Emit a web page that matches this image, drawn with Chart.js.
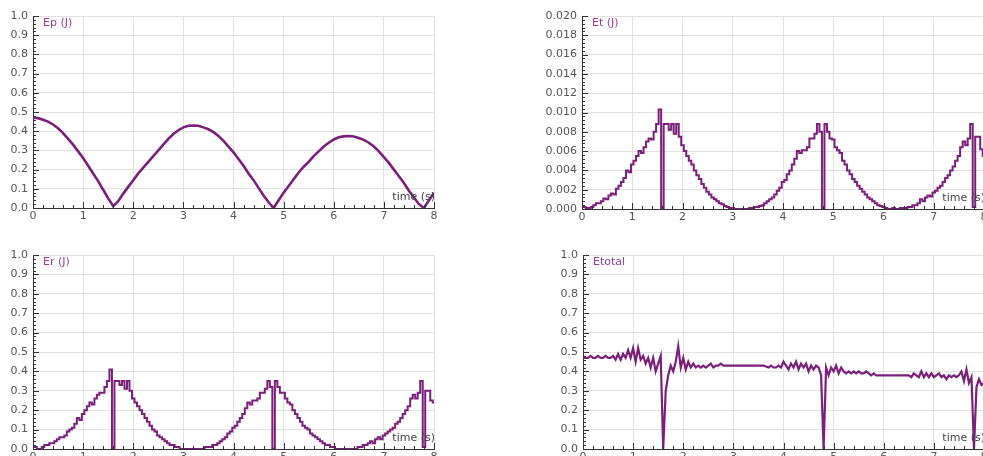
<!DOCTYPE html>
<html lang="en">
<head>
  <meta charset="UTF-8" />
  <title>Energy plots</title>
  <script src="https://cdn.jsdelivr.net/npm/chart.js"></script>
  <style>
    body { margin: 0; width: 983px; height: 456px; overflow: hidden; background: #fff; position: relative; }
    canvas { position: absolute; }
  </style>
</head>
<body>
  <canvas id="epChart" width="450" height="228" style="left:0;top:0"></canvas>
  <canvas id="etChart" width="460" height="229" style="left:540px;top:0"></canvas>
  <canvas id="erChart" width="450" height="230" style="left:0;top:239px"></canvas>
  <canvas id="etotChart" width="460" height="230" style="left:540px;top:239px"></canvas>

  <script>
    // sample times (s)
    const tEp = Array.from({ length: 81 }, (_, i) => +(i * 0.1).toFixed(1));
    const tFine = Array.from({ length: 161 }, (_, i) => +(i * 0.05).toFixed(2));

    // Ep (J), every 0.1 s
    const ep = [
      0.47, 0.468, 0.46, 0.45, 0.435, 0.415, 0.39, 0.36, 0.33, 0.295, 0.26, 0.22, 0.18, 0.14, 0.095, 0.05, 0.01,
      0.035, 0.075, 0.11, 0.145, 0.18, 0.21, 0.24, 0.27, 0.30, 0.33, 0.36, 0.385, 0.405, 0.42, 0.428, 0.43,
      0.428, 0.42, 0.41, 0.395, 0.375, 0.35, 0.32, 0.29, 0.255, 0.22, 0.18, 0.145, 0.105, 0.065, 0.03, 0.0,
      0.04, 0.08, 0.115, 0.15, 0.185, 0.215, 0.24, 0.27, 0.295, 0.32, 0.34, 0.357, 0.368, 0.373, 0.375, 0.372,
      0.365, 0.355, 0.34, 0.32, 0.295, 0.265, 0.235, 0.20, 0.165, 0.13, 0.09, 0.055, 0.02, 0.0, 0.04, 0.08
    ];

    // Et (J), every 0.05 s
    const et = [
      0.0002, 0.0002, 0.0001, 0.0001, 0.0002, 0.0004, 0.0006, 0.0006, 0.0008, 0.0011,
      0.0010, 0.0014, 0.0016, 0.0015, 0.0021, 0.0024, 0.0028, 0.0032, 0.0040, 0.0038,
      0.0046, 0.0050, 0.0055, 0.0060, 0.0058, 0.0064, 0.0070, 0.0073, 0.0072, 0.0080,
      0.0088, 0.0103, 0.0000, 0.0088, 0.0088, 0.0082, 0.0088, 0.0078, 0.0088, 0.0075,
      0.0066, 0.0060, 0.0055, 0.0050, 0.0046, 0.0040, 0.0035, 0.0031, 0.0026, 0.0022,
      0.0018, 0.0015, 0.0012, 0.0010, 0.0008, 0.0006, 0.0005, 0.0003, 0.0002, 0.0001,
      0.0001, 0.0000, 0.0000, 0.0000, 0.0000, 0.0000, 0.0000, 0.0001, 0.0001, 0.0002,
      0.0002, 0.0003, 0.0004, 0.0006, 0.0008, 0.0010, 0.0012, 0.0015, 0.0019, 0.0022,
      0.0028, 0.0030, 0.0036, 0.0040, 0.0046, 0.0052, 0.0060, 0.0058, 0.0061, 0.0061,
      0.0064, 0.0073, 0.0073, 0.0078, 0.0088, 0.0080, 0.0000, 0.0088, 0.0080, 0.0073,
      0.0072, 0.0064, 0.0061, 0.0058, 0.0050, 0.0046, 0.0040, 0.0036, 0.0031, 0.0028,
      0.0024, 0.0021, 0.0018, 0.0015, 0.0012, 0.0010, 0.0008, 0.0006, 0.0004, 0.0003,
      0.0002, 0.0001, 0.0000, 0.0000, 0.0001, 0.0000, 0.0000, 0.0001, 0.0001, 0.0001,
      0.0002, 0.0002, 0.0004, 0.0004, 0.0006, 0.0010, 0.0008, 0.0012, 0.0014, 0.0013,
      0.0017, 0.0019, 0.0022, 0.0024, 0.0028, 0.0032, 0.0035, 0.0040, 0.0044, 0.0050,
      0.0055, 0.0064, 0.0070, 0.0066, 0.0073, 0.0088, 0.0002, 0.0075, 0.0075, 0.0062,
      0.0055
    ];

    // Er (J), every 0.05 s
    const er = [
      0.01, 0.01, 0.00, 0.00, 0.01, 0.02, 0.02, 0.03, 0.03, 0.04,
      0.05, 0.06, 0.06, 0.07, 0.09, 0.10, 0.11, 0.13, 0.16, 0.15,
      0.18, 0.20, 0.22, 0.24, 0.23, 0.26, 0.28, 0.29, 0.29, 0.32,
      0.35, 0.41, 0.00, 0.35, 0.35, 0.33, 0.35, 0.31, 0.35, 0.30,
      0.26, 0.24, 0.22, 0.20, 0.18, 0.16, 0.14, 0.12, 0.10, 0.09,
      0.07, 0.06, 0.05, 0.04, 0.03, 0.02, 0.02, 0.01, 0.01, 0.00,
      0.00, 0.00, 0.00, 0.00, 0.00, 0.00, 0.00, 0.00, 0.00, 0.01,
      0.01, 0.01, 0.02, 0.02, 0.03, 0.04, 0.05, 0.06, 0.08, 0.09,
      0.11, 0.12, 0.14, 0.16, 0.18, 0.21, 0.24, 0.23, 0.25, 0.25,
      0.26, 0.29, 0.29, 0.31, 0.35, 0.32, 0.00, 0.35, 0.32, 0.29,
      0.29, 0.26, 0.24, 0.23, 0.20, 0.18, 0.16, 0.14, 0.12, 0.11,
      0.10, 0.08, 0.07, 0.06, 0.05, 0.04, 0.03, 0.02, 0.02, 0.01,
      0.01, 0.00, 0.00, 0.00, 0.00, 0.00, 0.00, 0.00, 0.00, 0.00,
      0.01, 0.01, 0.02, 0.02, 0.03, 0.04, 0.03, 0.05, 0.06, 0.05,
      0.07, 0.08, 0.09, 0.10, 0.11, 0.13, 0.14, 0.16, 0.18, 0.20,
      0.22, 0.26, 0.28, 0.26, 0.29, 0.35, 0.01, 0.30, 0.30, 0.25,
      0.24
    ];

    // Etotal (J), every 0.05 s
    const etot = [
      0.47, 0.47, 0.47, 0.48, 0.47, 0.47, 0.48, 0.47, 0.47, 0.48,
      0.47, 0.47, 0.48, 0.46, 0.49, 0.46, 0.49, 0.47, 0.51, 0.47,
      0.52, 0.45, 0.52, 0.46, 0.48, 0.44, 0.47, 0.42, 0.47, 0.40,
      0.44, 0.48, 0.00, 0.30, 0.38, 0.43, 0.40, 0.45, 0.53, 0.42,
      0.47, 0.41, 0.45, 0.42, 0.44, 0.42, 0.43, 0.42, 0.43, 0.42,
      0.43, 0.44, 0.42, 0.43, 0.43, 0.44, 0.43, 0.43, 0.43, 0.43,
      0.43, 0.43, 0.43, 0.43, 0.43, 0.43, 0.43, 0.43, 0.43, 0.43,
      0.43, 0.43, 0.43, 0.425, 0.42, 0.43, 0.42, 0.42, 0.43, 0.42,
      0.45, 0.43, 0.41, 0.44, 0.42, 0.45, 0.41, 0.44, 0.42, 0.44,
      0.40, 0.43, 0.41, 0.43, 0.42, 0.38, 0.00, 0.42, 0.38, 0.42,
      0.40, 0.43, 0.39, 0.42, 0.40, 0.39, 0.40, 0.39, 0.40, 0.39,
      0.40, 0.39, 0.39, 0.40, 0.39, 0.38, 0.39, 0.38, 0.38, 0.38,
      0.38, 0.38, 0.38, 0.38, 0.38, 0.38, 0.38, 0.38, 0.38, 0.38,
      0.38, 0.37, 0.39, 0.38, 0.37, 0.40, 0.37, 0.39, 0.37, 0.39,
      0.37, 0.38, 0.39, 0.37, 0.38, 0.36, 0.38, 0.37, 0.38, 0.37,
      0.38, 0.40, 0.35, 0.41, 0.34, 0.37, 0.00, 0.32, 0.36, 0.33,
      0.34
    ];

    const FONT = '"DejaVu Sans", Verdana, sans-serif';
    const LINE = '#7b1f7b';

    // inward ticks on both axes + corner labels
    const axisDecor = {
      id: 'axisDecor',
      afterDraw(chart, args, o) {
        const { ctx, chartArea: a, scales: { x, y } } = chart;
        ctx.save();
        ctx.strokeStyle = '#333';
        ctx.lineWidth = 1;
        ctx.beginPath();
        const minor = o.yStep / 5;
        const n = Math.round(o.yMax / minor);
        for (let i = 0; i <= n; i++) {
          const py = Math.round(y.getPixelForValue(i * minor)) + 0.5;
          const len = i % 5 === 0 ? 6 : 3;
          ctx.moveTo(a.left, py);
          ctx.lineTo(a.left + len, py);
        }
        for (let i = 0; i <= 40; i++) {
          const px = Math.round(x.getPixelForValue(i * 0.2)) + 0.5;
          const len = i % 5 === 0 ? 6 : 3;
          ctx.moveTo(px, a.bottom);
          ctx.lineTo(px, a.bottom - len);
        }
        ctx.stroke();

        ctx.font = '11px ' + FONT;
        ctx.fillStyle = '#9a3c9a';
        ctx.textAlign = 'left';
        ctx.textBaseline = 'top';
        ctx.fillText(o.title, a.left + 10, a.top + 2);
        ctx.fillStyle = '#444';
        ctx.textAlign = 'right';
        ctx.textBaseline = 'bottom';
        ctx.fillText('time (s)', a.right + 1, a.bottom - 5);
        ctx.restore();
      }
    };

    function makeChart(id, title, times, values, yMax, yStep, decimals, yWidth, stepped, width) {
      const ctx = document.getElementById(id).getContext('2d');
      return new Chart(ctx, {
        type: 'line',
        data: {
          datasets: [{
            data: times.map((t, i) => ({ x: t, y: values[i] })),
            borderColor: LINE,
            borderWidth: width,
            pointRadius: 0,
            tension: 0,
            stepped: stepped
          }]
        },
        options: {
          responsive: false,
          animation: false,
          devicePixelRatio: 1,
          layout: { padding: { left: 0, top: 16, right: 16, bottom: 0 } },
          plugins: {
            legend: { display: false },
            tooltip: { enabled: false },
            axisDecor: { title: title, yMax: yMax, yStep: yStep }
          },
          scales: {
            x: {
              type: 'linear',
              min: 0,
              max: 8,
              afterFit: s => { s.height = 20; },
              grid: { color: '#e2e2e2', drawTicks: false },
              border: { color: '#333' },
              ticks: {
                stepSize: 1,
                padding: 2,
                color: '#555',
                font: { family: FONT, size: 11 }
              }
            },
            y: {
              min: 0,
              max: yMax,
              afterFit: s => { s.width = yWidth; },
              grid: { color: '#e2e2e2', drawTicks: false },
              border: { color: '#333' },
              ticks: {
                stepSize: yStep,
                padding: 5,
                color: '#555',
                font: { family: FONT, size: 11 },
                callback: v => Number(v).toFixed(decimals)
              }
            }
          }
        },
        plugins: [axisDecor]
      });
    }

    makeChart('epChart', 'Ep (J)', tEp, ep, 1, 0.1, 1, 33, false, 2.6);
    makeChart('etChart', 'Et (J)', tFine, et, 0.02, 0.002, 3, 42, 'middle', 2);
    makeChart('erChart', 'Er (J)', tFine, er, 1, 0.1, 1, 33, 'middle', 2);
    makeChart('etotChart', 'Etotal', tFine, etot, 1, 0.1, 1, 43, false, 2.2);
  </script>
</body>
</html>
